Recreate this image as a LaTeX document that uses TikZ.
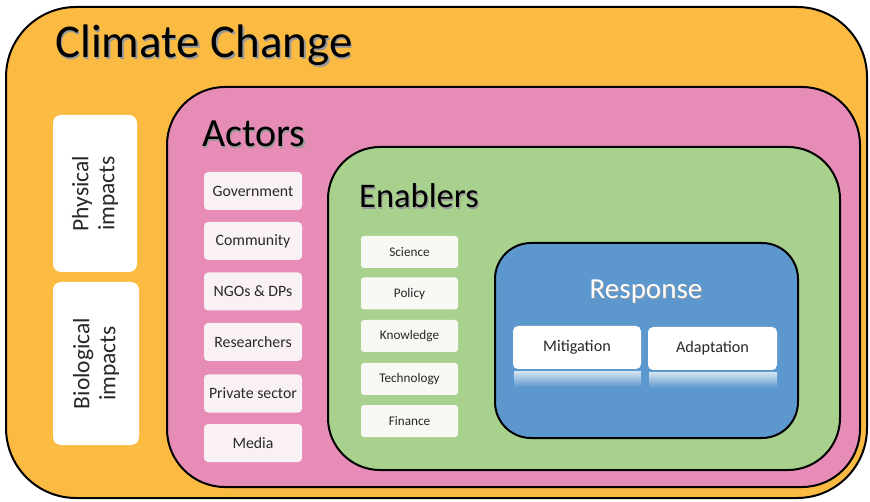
\documentclass[tikz,border=0pt]{standalone}
\usepackage{fontspec}
\setmainfont{Carlito}
\usetikzlibrary{positioning}
\definecolor{cOrange}{RGB}{251,186,66}
\definecolor{cPink}{RGB}{230,140,182}
\definecolor{cGreen}{RGB}{169,209,142}
\definecolor{cBlue}{RGB}{92,151,206}
\definecolor{cActor}{RGB}{250,241,244}
\definecolor{cEnab}{RGB}{248,248,245}
\definecolor{cText}{RGB}{40,40,40}
\newcommand\shtext[2][1.5pt]{\makebox[0pt][l]{\hspace{#1}\raisebox{-#1}{\textcolor{black!40}{#2}}}#2}
\tikzset{
  container/.style={draw=black, line width=2pt, rounded corners=#1, inner sep=0pt},
  impact/.style={fill=white, rounded corners=8pt, inner sep=0pt, rotate=90,
     align=center, text=cText, font=\fontsize{23.5}{26}\selectfont},
  actorbox/.style={fill=cActor, rounded corners=4pt, minimum width=98pt, minimum height=38pt,
     inner sep=0pt, text=cText, font=\fontsize{15.8}{18}\selectfont},
  enabbox/.style={fill=cEnab, rounded corners=3pt, minimum width=97pt, minimum height=32pt,
     inner sep=0pt, text=cText, font=\fontsize{13.2}{15}\selectfont},
  respbox/.style={fill=white, rounded corners=5pt, minimum width=128pt, minimum height=43pt,
     inner sep=0pt, text=cText, font=\fontsize{16.2}{18}\selectfont},
  title/.style={anchor=base west, inner sep=0pt, text=black},
}
\begin{document}
\begin{tikzpicture}[x=1pt,y=-1pt]
\useasboundingbox (0,0) rectangle (870,502);
\node[container=70pt, fill=cOrange, minimum width=861pt, minimum height=491pt] (cc) at (436.5,252.5) {};
\node[container=58pt, fill=cPink, minimum width=693pt, minimum height=400pt] (act) at (513.5,287) {};
\node[container=52pt, fill=cGreen, minimum width=512pt, minimum height=323pt] (enab) at (584,308.5) {};
\node[container=36pt, fill=cBlue, minimum width=303pt, minimum height=195pt] (resp) at (646.5,340.5) {};

\node[title, font=\fontsize{47}{50}\selectfont] (tcc) at (55,58) {\shtext{Climate Change}};
\node[title, font=\fontsize{40}{44}\selectfont] (tact) at (202,147) {\shtext{Actors}};
\node[title, font=\fontsize{34.5}{38}\selectfont] (tenab) at (359,208) {\shtext[1.2pt]{Enablers}};
\node[anchor=base, inner sep=0pt, text=white, font=\fontsize{29}{32}\selectfont] (tresp) at (646,299) {\shtext[1pt]{Response}};

\node[impact, minimum width=157pt, minimum height=84pt] (phys) at (95,193.5) {Physical\\impacts};
\node[impact, minimum width=163pt, minimum height=86pt] (bio) at (96,363.5) {Biological\\impacts};

\node[actorbox] (a1) at (253,191) {Government};
\node[actorbox] (a2) at (253,241) {Community};
\node[actorbox] (a3) at (253,291.5) {NGOs \& DPs};
\node[actorbox] (a4) at (253,342) {Researchers};
\node[actorbox] (a5) at (253,393.5) {Private sector};
\node[actorbox] (a6) at (253,443) {Media};

\node[enabbox] (e1) at (409.5,252) {Science};
\node[enabbox] (e2) at (409.5,293.5) {Policy};
\node[enabbox] (e3) at (409.5,336) {Knowledge};
\node[enabbox] (e4) at (409.5,379) {Technology};
\node[enabbox] (e5) at (409.5,421) {Finance};

\shade[top color=white!70!cBlue, bottom color=cBlue] (514,372) rectangle (641,387);
\shade[top color=white!70!cBlue, bottom color=cBlue] (649,373) rectangle (777,388);
\node[respbox] (mit) at (577,347.5) {Mitigation};
\node[respbox, minimum width=129pt] (ada) at (712.5,348.5) {Adaptation};
\end{tikzpicture}
\end{document}
